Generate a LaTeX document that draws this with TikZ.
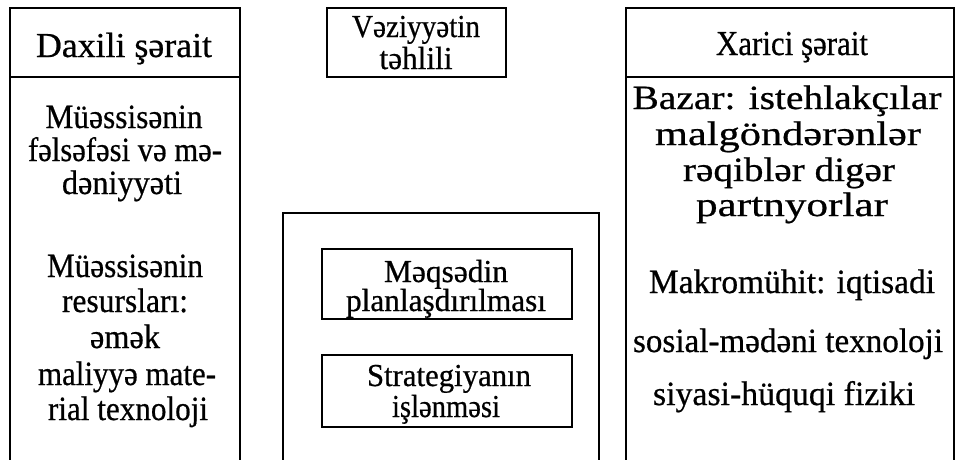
\documentclass[tikz,border=0pt]{standalone}
\usepackage{fontspec}
\setmainfont[FakeBold=0.6]{Liberation Serif}
% set a line to a given width (in pt) without changing its height
\newcommand\fitw[2]{\resizebox{#1pt}{\height}{#2}}
\begin{document}
\begin{tikzpicture}[x=1pt,y=-1pt,
  frame/.style={line width=2pt, line cap=rect},
  txt/.style={anchor=base, inner sep=0pt, font=\fontsize{34}{38}\selectfont},
  head/.style={txt, font=\fontsize{35}{38}\selectfont},
  mid/.style={txt, font=\fontsize{32}{36}\selectfont}]
\useasboundingbox (0,0) rectangle (957,459);

% left panel: internal conditions (open at the bottom)
\draw[frame] (10,459) -- (10,8) -- (240,8) -- (240,459);
\draw[frame] (10,77) -- (240,77);
% right panel: external conditions
\draw[frame] (626,459) -- (626,8) -- (954,8) -- (954,459);
\draw[frame] (626,77) -- (954,77);
% centre: situation analysis and the planning column
\draw[frame] (327,8) rectangle (506,77);
\draw[frame] (283,459) -- (283,213) -- (599,213) -- (599,459);
\draw[frame] (322,249) rectangle (572,319);
\draw[frame] (322,355) rectangle (572,427);

% left panel texts
\node[head] (dax) at (124,57)  {\fitw{176}{Daxili şərait}};
\node[txt]  (l1a) at (124,128) {\fitw{157}{Müəssisənin}};
\node[txt]  (l1b) at (125,161) {\fitw{194}{fəlsəfəsi və mə-}};
\node[txt]  (l1c) at (122,194) {\fitw{120}{dəniyyəti}};
\node[txt]  (l2a) at (125,277) {\fitw{156}{Müəssisənin}};
\node[txt]  (l2b) at (125,312) {\fitw{126}{resursları:}};
\node[txt]  (l2c) at (125,348) {\fitw{70}{əmək}};
\node[txt]  (l2d) at (127,385) {\fitw{178}{maliyyə mate-}};
\node[txt]  (l2e) at (128,420) {\fitw{160}{rial texnoloji}};

% centre texts
\node[mid] (vez1) at (416,37)  {\fitw{128}{Vəziyyətin}};
\node[mid] (vez2) at (416,69)  {\fitw{73}{təhlili}};
\node[mid] (mq1)  at (446,282) {\fitw{124}{Məqsədin}};
\node[mid] (mq2)  at (446,311) {\fitw{200}{planlaşdırılması}};
\node[mid] (st1)  at (449,386) {\fitw{164}{Strategiyanın}};
\node[mid] (st2)  at (446,417) {\fitw{108}{işlənməsi}};

% right panel texts
\node[head] (xar) at (792,55)  {\fitw{152}{Xarici şərait}};
\node[txt]  (r1a) at (787,109) {\fitw{309}{Bazar: istehlakçılar}};
\node[txt]  (r1b) at (788,145) {\fitw{266}{malgöndərənlər}};
\node[txt]  (r1c) at (789,181) {\fitw{212}{rəqiblər digər}};
\node[txt]  (r1d) at (792,216) {\fitw{192}{partnyorlar}};
\node[txt]  (r2a) at (792,293) {\fitw{286}{Makromühit: iqtisadi}};
\node[txt]  (r2b) at (788,352) {\fitw{310}{sosial-mədəni texnoloji}};
\node[txt]  (r2c) at (784,405) {\fitw{262}{siyasi-hüquqi fiziki}};
\end{tikzpicture}
\end{document}
